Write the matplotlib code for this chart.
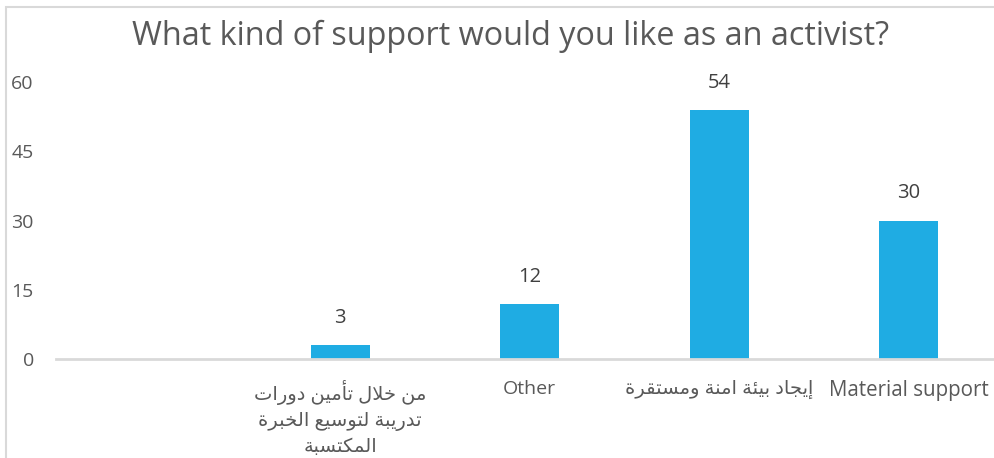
import matplotlib
matplotlib.use("Agg")
import matplotlib.pyplot as plt
from matplotlib.patches import Rectangle

plt.rcParams['font.family'] = ['Open Sans', 'DejaVu Sans']

# ---------------- data ----------------
title = "What kind of support would you like as an activist?"
categories = ["",
              "من خلال تأمين دورات\nتدريبة لتوسيع الخبرة\nالمكتسبة",
              "Other",
              "إيجاد بيئة امنة ومستقرة",
              "Material support"]
values = [None, 3, 12, 54, 30]
yticks = [0, 15, 30, 45, 60]

# ------------- minimal Arabic shaping (for display) -------------
FORMS = {  # isolated, final, initial, medial
    '\u0627': ('\uFE8D', '\uFE8E', None, None),
    '\u0623': ('\uFE83', '\uFE84', None, None),
    '\u0625': ('\uFE87', '\uFE88', None, None),
    '\u0628': ('\uFE8F', '\uFE90', '\uFE91', '\uFE92'),
    '\u0629': ('\uFE93', '\uFE94', None, None),
    '\u062A': ('\uFE95', '\uFE96', '\uFE97', '\uFE98'),
    '\u062C': ('\uFE9D', '\uFE9E', '\uFE9F', '\uFEA0'),
    '\u062E': ('\uFEA5', '\uFEA6', '\uFEA7', '\uFEA8'),
    '\u062F': ('\uFEA9', '\uFEAA', None, None),
    '\u0631': ('\uFEAD', '\uFEAE', None, None),
    '\u0633': ('\uFEB1', '\uFEB2', '\uFEB3', '\uFEB4'),
    '\u0639': ('\uFEC9', '\uFECA', '\uFECB', '\uFECC'),
    '\u0642': ('\uFED5', '\uFED6', '\uFED7', '\uFED8'),
    '\u0643': ('\uFED9', '\uFEDA', '\uFEDB', '\uFEDC'),
    '\u0644': ('\uFEDD', '\uFEDE', '\uFEDF', '\uFEE0'),
    '\u0645': ('\uFEE1', '\uFEE2', '\uFEE3', '\uFEE4'),
    '\u0646': ('\uFEE5', '\uFEE6', '\uFEE7', '\uFEE8'),
    '\u0648': ('\uFEED', '\uFEEE', None, None),
    '\u064A': ('\uFEF1', '\uFEF2', '\uFEF3', '\uFEF4'),
    '\u0626': ('\uFE89', '\uFE8A', '\uFE8B', '\uFE8C'),
}
LAMALEF = {'\u0627': ('\uFEFB', '\uFEFC'), '\u0623': ('\uFEF7', '\uFEF8'),
           '\u0625': ('\uFEF9', '\uFEFA')}


def shape_word(w):
    toks = []
    i = 0
    while i < len(w):
        c = w[i]
        if c == '\u0644' and i + 1 < len(w) and w[i + 1] in LAMALEF:
            toks.append(('LA', w[i + 1]))
            i += 2
        else:
            toks.append(('C', c))
            i += 1

    def dual(t):
        return t[0] == 'C' and t[1] in FORMS and FORMS[t[1]][2] is not None

    def arabic(t):
        return t[0] == 'LA' or t[1] in FORMS

    out = []
    for k, t in enumerate(toks):
        prev = toks[k - 1] if k > 0 else None
        nxt = toks[k + 1] if k + 1 < len(toks) else None
        cp = prev is not None and dual(prev) and arabic(t)
        if t[0] == 'LA':
            out.append(LAMALEF[t[1]][1 if cp else 0])
            continue
        if t[1] not in FORMS:
            out.append(t[1])
            continue
        f = FORMS[t[1]]
        cn = dual(t) and nxt is not None and arabic(nxt)
        if cp and cn:
            out.append(f[3])
        elif cp:
            out.append(f[1])
        elif cn:
            out.append(f[2])
        else:
            out.append(f[0])
    return ''.join(out)


def display(s):
    if not any('\u0600' <= ch <= '\u06FF' for ch in s):
        return s
    lines = []
    for line in s.split('\n'):
        shaped = ' '.join(shape_word(w) for w in line.split(' '))
        lines.append(shaped[::-1])
    return '\n'.join(lines)


# ---------------- figure ----------------
W, H = 994, 458
fig = plt.figure(figsize=(W / 100, H / 100), dpi=100)

# chart frame (light gray border, extends beyond the crop)
fig.patches.append(Rectangle((6 / W, -0.1), 1.2, (H - 7) / H + 0.1,
                             transform=fig.transFigure, fill=False,
                             edgecolor='#d9d9d9', linewidth=1.5))
# clipped leftover text at the very top
fig.text(12 / W, 1 + 20 / H, "g", fontsize=22, color='#000000',
         ha='left', va='baseline')

left, right = 56, 1003.5
y0, y60 = 359, 82
ax = fig.add_axes([left / W, (H - y0) / H, (right - left) / W, (y0 - y60) / H])

x = list(range(len(categories)))
bar_x = [i for i, v in zip(x, values) if v is not None]
bar_v = [v for v in values if v is not None]
bars = ax.bar(bar_x, bar_v, width=0.31, color='#1FACE3', zorder=2)

for xi, v in zip(bar_x, bar_v):
    ax.annotate(str(v), (xi, v), xytext=(0, 27), textcoords='offset pixels',
                ha='center', va='center', fontsize=14.5, color='#404040')

ax.set_xlim(-0.5, len(categories) - 0.5)
ax.set_ylim(0, 60)
ax.set_yticks(yticks)
ax.set_yticklabels([str(t) for t in yticks], fontsize=14, color='#595959')
ax.set_xticks(x)
ax.set_xticklabels([display(c) for c in categories], fontsize=14,
                   color='#595959', linespacing=1.5)
for lab in ax.get_xticklabels():
    if lab.get_text().startswith('Material'):
        lab.set_fontsize(14.8)
ax.tick_params(axis='y', length=0, pad=16)
ax.tick_params(axis='x', length=0, pad=15)
for lab in ax.get_yticklabels():
    lab.set_horizontalalignment('right')

for s in ['top', 'right', 'left']:
    ax.spines[s].set_visible(False)
ax.spines['bottom'].set_color('#d9d9d9')
ax.spines['bottom'].set_linewidth(2)
ax.patch.set_alpha(0)

fig.text(511 / W, (H - 36) / H, title, fontsize=23.3, color='#595959',
         ha='center', va='center')

fig.savefig('out.png', dpi=100)
